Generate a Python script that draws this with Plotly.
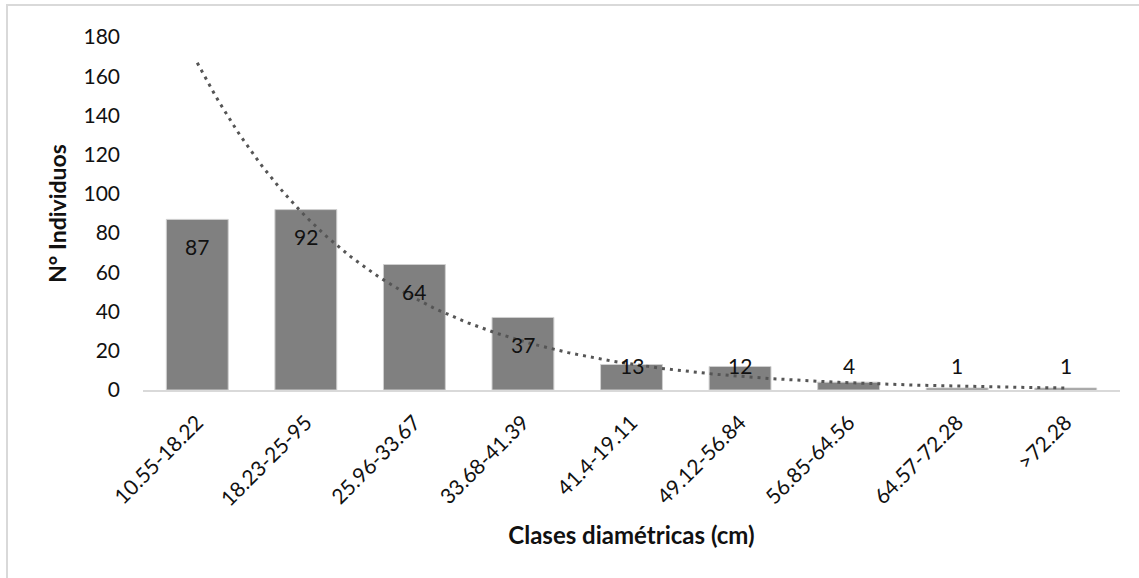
import numpy as np
import plotly.graph_objects as go

# Diameter classes and number of individuals per class
clases = ["10.55-18.22", "18.23-25-95", "25.96-33.67", "33.68-41.39", "41.4-19.11",
          "49.12-56.84", "56.85-64.56", "64.57-72.28", ">72.28"]
individuos = [87, 92, 64, 37, 13, 12, 4, 1, 1]
y_ticks = [0, 20, 40, 60, 80, 100, 120, 140, 160, 180]

FONT = "Lato, 'Open Sans', sans-serif"

# Exponential trendline y = a*exp(b*x) fitted on class index 1..n
idx = np.arange(1, len(individuos) + 1)
b, ln_a = np.polyfit(idx, np.log(individuos), 1)
xs = np.linspace(1, len(individuos), 200)
trend = np.exp(ln_a) * np.exp(b * xs)

fig = go.Figure()

fig.add_trace(go.Bar(
    x=list(range(1, len(clases) + 1)),
    y=individuos,
    marker=dict(color="#808080", line=dict(color="#d0d0d0", width=1)),
    width=0.57,
    hoverinfo="skip",
    showlegend=False,
))

fig.add_trace(go.Scatter(
    x=xs, y=trend, mode="lines",
    line=dict(color="#555555", width=3, dash="3px,5px"),
    hoverinfo="skip", showlegend=False,
))

# Value labels near the top inside each bar (kept above the baseline for short bars)
for i, v in enumerate(individuos, start=1):
    fig.add_annotation(
        x=i, y=max(v - 13.8, 12.7), text=str(v), showarrow=False,
        font=dict(family=FONT, size=21, color="#111111"),
        xanchor="center", yanchor="middle",
    )

# Light outer frame
fig.add_shape(type="rect", xref="paper", yref="paper",
              x0=-0.1392, x1=1.2, y0=-0.8, y1=1.0907,
              line=dict(color="#d9d9d9", width=2), fillcolor="rgba(0,0,0,0)", layer="below")

fig.update_layout(
    width=1139, height=578,
    margin=dict(l=143, r=19, t=37, b=188),
    paper_bgcolor="white", plot_bgcolor="white",
    font=dict(family=FONT, size=20, color="#111111"),
    xaxis=dict(
        range=[0.5, len(clases) + 0.5],
        tickmode="array", tickvals=list(range(1, len(clases) + 1)), ticktext=clases,
        tickangle=-45, tickfont=dict(family=FONT, size=21, color="#111111"),
        showgrid=False, zeroline=False, showline=True, linecolor="#d9d9d9", linewidth=2,
        ticks="", ticklabelstandoff=10,
        title=dict(text="<b>Clases diamétricas (cm)</b>", standoff=18,
                   font=dict(family=FONT, size=24, color="#111111")),
    ),
    yaxis=dict(
        range=[0, 180], tickmode="array", tickvals=y_ticks,
        tickfont=dict(family=FONT, size=21, color="#111111"),
        showgrid=False, zeroline=False, showline=False, ticks="",
        ticklabelstandoff=22,
        title=dict(text="<b>N° Individuos</b>", standoff=10,
                   font=dict(family=FONT, size=23, color="#111111")),
    ),
)

fig.write_html("out.html")
